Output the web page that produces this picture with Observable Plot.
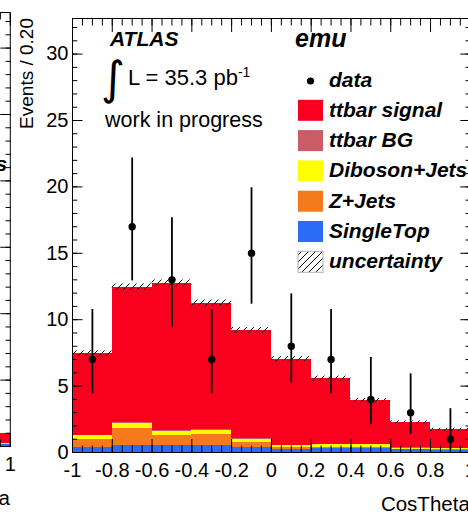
<!DOCTYPE html>
<html>
<head>
<meta charset="utf-8">
<title>CosTheta, emu channel</title>
<script src="https://cdn.jsdelivr.net/npm/d3@7"></script>
<script src="https://cdn.jsdelivr.net/npm/@observablehq/plot@0.6"></script>
<style>
  html, body { margin: 0; padding: 0; background: #fff; overflow: hidden; }
  #wrap { position: relative; width: 468px; height: 515px; overflow: hidden; background: #fff; }
  #wrap > svg { position: absolute; }
</style>
</head>
<body>
<div id="wrap"></div>
<script>
const FONT = "'Liberation Sans', Arial, Helvetica, sans-serif";

// CosTheta binning (lower bin edges), 10 bins of 0.2
const binLow = [-1, -0.8, -0.6, -0.4, -0.2, 0, 0.2, 0.4, 0.6, 0.8];
const binWidth = 0.2;

// emu channel: expected events per bin, per process
const singleTop   = [0.35, 0.55, 0.55, 0.55, 0.40, 0.23, 0.28, 0.28, 0.20, 0.15];
const zJets       = [0.63, 1.25, 0.75, 0.80, 0.38, 0.12, 0.12, 0.12, 0.05, 0.05];
const diboson     = [0.27, 0.36, 0.28, 0.30, 0.22, 0.18, 0.18, 0.18, 0.08, 0.07];
const ttbarBG     = [0.05, 0.07, 0.07, 0.05, 0.05, 0.03, 0.03, 0.03, 0.03, 0.03];
const ttbarSignal = [6.13, 10.21, 11.09, 9.54, 8.13, 6.46, 4.96, 3.30, 1.90, 1.40];
// absolute uncertainty on the summed expectation
const mcUncertainty = [0.22, 0.25, 0.25, 0.24, 0.22, 0.20, 0.18, 0.16, 0.12, 0.12];

// emu channel: observed events with asymmetric Poisson errors
const dataCounts  = [7, 17, 13, 7, 15, 8, 7, 4, 3, 1];
const dataErrLow  = [2.58, 4.08, 3.56, 2.58, 3.83, 2.77, 2.58, 1.91, 1.63, 0.83];
const dataErrHigh = [3.77, 5.18, 4.67, 3.77, 4.93, 3.95, 3.77, 3.16, 2.92, 2.30];

// neighbouring panel: only its last bin is in view
const nbBinLow      = [0.8];
const nbSingleTop   = [0.12];
const nbZJets       = [0.06];
const nbDiboson     = [0.03];
const nbTtbarBG     = [0.04];
const nbTtbarSignal = [0.75];

// stacking order, bottom to top
const processNames  = ["SingleTop", "Z+Jets", "Diboson+Jets", "ttbar BG", "ttbar signal"];
const processColors = ["#2b6cf6", "#f57a1b", "#ffff00", "#c95c66", "#f8001e"];

// axis ticks and labels
const xTicks = [-1, -0.8, -0.6, -0.4, -0.2, 0, 0.2, 0.4, 0.6, 0.8, 1];
const xTickLabels = ["-1", "-0.8", "-0.6", "-0.4", "-0.2", "0", "0.2", "0.4", "0.6", "0.8", "1"];
const yTicks = [0, 5, 10, 15, 20, 25, 30];
const yTickLabels = ["0", "5", "10", "15", "20", "25", "30"];

const legendLabels = ["data", "ttbar signal", "ttbar BG", "Diboson+Jets", "Z+Jets", "SingleTop", "uncertainty"];

function drawPanel(cfg) {
  const W = 480, H = 515;
  const frameRight = 469.8;
  const yMax = 32.68;

  // stacked rectangles per bin
  const stackRows = [], bandRows = [];
  cfg.binLow.forEach((lo, i) => {
    const hi = lo + binWidth;
    let acc = 0;
    cfg.layers.forEach((vals, k) => {
      stackRows.push({x1: lo, x2: hi, y1: acc, y2: acc + vals[i], process: processNames[k]});
      acc += vals[i];
    });
    if (cfg.unc) bandRows.push({x1: lo, x2: hi, y1: acc - cfg.unc[i], y2: acc + cfg.unc[i]});
  });
  const points = (cfg.counts || []).map((n, i) => ({
    x: cfg.binLow[i] + binWidth / 2, n,
    lo: n - cfg.errLow[i], hi: n + cfg.errHigh[i]
  }));

  const hatchId = cfg.id + "-hatch";
  const xMinor = d3.range(41).map(i => -1 + i * 0.05);
  const yMinor = d3.range(0, 33);
  const fmtX = d => xTickLabels[xTicks.indexOf(d)];
  const fmtY = d => yTickLabels[yTicks.indexOf(d)];
  const blank = () => "";

  const svg = Plot.plot({
    width: W, height: H,
    marginLeft: 72, marginRight: W - frameRight, marginTop: 18, marginBottom: 63,
    style: "max-width:none;background:transparent;overflow:visible;",
    x: {domain: [-1, 1]},
    y: {domain: [0, yMax]},
    color: {domain: processNames, range: processColors},
    marks: [
      Plot.rect(stackRows, {x1: "x1", x2: "x2", y1: "y1", y2: "y2", fill: "process", shapeRendering: "crispEdges"}),
      Plot.rect(bandRows, {x1: "x1", x2: "x2", y1: "y1", y2: "y2", fill: `url(#${hatchId})`}),
      Plot.ruleX(points, {x: "x", y1: "lo", y2: "hi", stroke: "#000", strokeWidth: 1.8}),
      Plot.dot(points, {x: "x", y: "n", r: 3.7, fill: "#000", stroke: null}),
      Plot.frame({stroke: "#000", strokeWidth: 1}),
      // inward ticks on all four sides
      Plot.axisX({anchor: "bottom", ticks: xMinor, tickSize: -6.5, tickFormat: blank}),
      Plot.axisX({anchor: "bottom", ticks: xTicks, tickSize: -13, tickFormat: blank}),
      Plot.axisX({anchor: "top", ticks: xMinor, tickSize: -6.5, tickFormat: blank}),
      Plot.axisX({anchor: "top", ticks: xTicks, tickSize: -13, tickFormat: blank}),
      Plot.axisY({anchor: "left", ticks: yMinor, tickSize: -5.3, tickFormat: blank}),
      Plot.axisY({anchor: "left", ticks: yTicks, tickSize: -10.5, tickFormat: blank}),
      Plot.axisY({anchor: "right", ticks: yMinor, tickSize: -5.3, tickFormat: blank}),
      Plot.axisY({anchor: "right", ticks: yTicks, tickSize: -10.5, tickFormat: blank}),
      // tick labels
      Plot.axisX({anchor: "bottom", ticks: xTicks, tickSize: 0, tickPadding: 10, tickFormat: fmtX,
                  fontSize: 20, fontFamily: FONT, label: null}),
      Plot.axisY({anchor: "left", ticks: yTicks, tickSize: 0, tickPadding: 4, tickFormat: fmtY,
                  fontSize: 20, fontFamily: FONT, label: null})
    ]
  });

  const s = d3.select(svg);
  const pat = s.insert("defs", ":first-child").append("pattern")
    .attr("id", hatchId).attr("patternUnits", "userSpaceOnUse")
    .attr("width", 7).attr("height", 7);
  pat.append("path").attr("d", "M-1,1 l2,-2 M0,7 l7,-7 M6,8 l2,-2")
    .attr("stroke", "#000").attr("stroke-width", 1);

  const t = s.append("g").attr("font-family", FONT).attr("fill", "#000")
    .attr("text-anchor", "start");

  // axis titles
  t.append("text").attr("transform", "translate(33,18) rotate(-90)")
    .attr("text-anchor", "end").attr("font-size", 19).text("Events / 0.20");
  t.append("text").attr("x", frameRight).attr("y", 511)
    .attr("text-anchor", "end").attr("font-size", 20.5).text("CosTheta");

  // legend
  const legendColors = [null, processColors[4], processColors[3], processColors[2], processColors[1], processColors[0], null];
  const lg = t.append("g").attr("font-weight", "bold").attr("font-style", "italic").attr("font-size", 21);
  legendLabels.forEach((label, i) => {
    const cy = 80 + i * 30.3;
    if (i === 0) {
      lg.append("circle").attr("cx", 310.5).attr("cy", cy + 1).attr("r", 3.6).attr("fill", "#000");
    } else if (i === legendLabels.length - 1) {
      lg.append("rect").attr("x", 298).attr("y", cy - 10.5).attr("width", 25).attr("height", 21)
        .attr("fill", `url(#${hatchId})`).attr("stroke", "#b0b0b0").attr("stroke-width", 1);
    } else {
      lg.append("rect").attr("x", 298).attr("y", cy - 10.5).attr("width", 25).attr("height", 21)
        .attr("fill", legendColors[i]);
    }
    lg.append("text").attr("x", 329).attr("y", cy + 6.5).text(label);
  });

  if (cfg.channel) {
    t.append("text").attr("x", 295).attr("y", 47).attr("font-size", 25)
      .attr("font-weight", "bold").attr("font-style", "italic").text(cfg.channel);
  }
  if (cfg.header) {
    t.append("text").attr("x", 110).attr("y", 46).attr("font-size", 21)
      .attr("font-weight", "bold").attr("font-style", "italic").text("ATLAS");
    t.append("text").attr("x", 101).attr("y", 94).attr("font-family", "'DejaVu Sans', sans-serif")
      .attr("font-size", 46).text("\u222B");
    const lumi = t.append("text").attr("x", 128).attr("y", 85).attr("font-size", 22).text("L = 35.3 pb");
    lumi.append("tspan").attr("dy", -8).attr("font-size", 14).text("-1");
    t.append("text").attr("x", 105).attr("y", 127).attr("font-size", 21.5).text("work in progress");
  }

  svg.style.left = cfg.left + "px";
  svg.style.top = cfg.top + "px";
  return svg;
}

const wrap = document.getElementById("wrap");

wrap.appendChild(drawPanel({
  id: "nb", left: -459.8, top: -6,
  binLow: nbBinLow,
  layers: [nbSingleTop, nbZJets, nbDiboson, nbTtbarBG, nbTtbarSignal]
}));

wrap.appendChild(drawPanel({
  id: "emu", left: 0, top: 0, channel: "emu", header: true,
  binLow,
  layers: [singleTop, zJets, diboson, ttbarBG, ttbarSignal],
  unc: mcUncertainty,
  counts: dataCounts, errLow: dataErrLow, errHigh: dataErrHigh
}));
</script>
</body>
</html>
